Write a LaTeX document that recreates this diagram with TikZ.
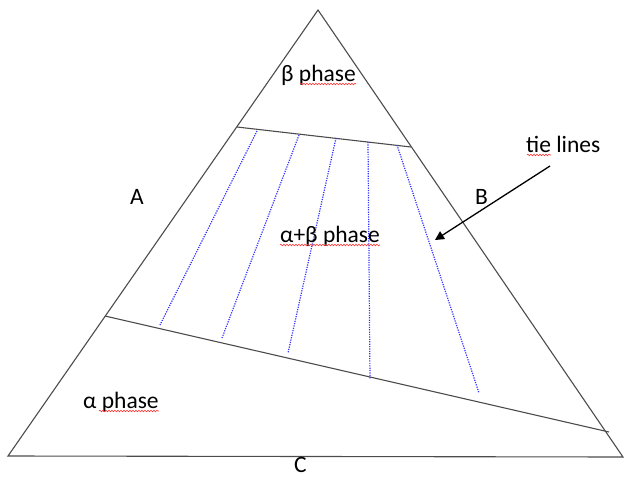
\documentclass[tikz,border=0pt]{standalone}
\usepackage{fontspec}
\setmainfont{Carlito}
\usetikzlibrary{arrows.meta,calc,decorations.pathmorphing}

\tikzset{
  edge/.style={draw=black!70, line width=1.1pt},
  tie/.style={draw=blue!80, line width=1.2pt, dash pattern=on 1.2pt off 1.2pt},
  lbl/.style={font=\fontsize{23.5}{26}\selectfont, inner sep=0pt, anchor=base west},
  squiggle/.style={draw=red!80, line width=0.6pt, decorate,
    decoration={snake, amplitude=0.8pt, segment length=3pt}}
}

\begin{document}
\begin{tikzpicture}[x=1pt,y=-1pt]
\useasboundingbox (0,0) rectangle (624,477);

% corners of the triangle
\coordinate (top) at (318,10);
\coordinate (left) at (8,456);
\coordinate (right) at (623,457);

% phase boundaries
\coordinate (up1) at (237,127);   % beta boundary, left end
\coordinate (up2) at (411,147);   % beta boundary, right end
\coordinate (lo1) at (105,316);   % alpha boundary, left end
\coordinate (lo2) at (609,432);   % alpha boundary, right end

% triangle
\draw[edge] (left) -- (top) -- (right) -- cycle;
\draw[edge] (up1) -- (up2);
\draw[edge] (lo1) -- (lo2);

% tie lines
\coordinate (t1a) at (257,131); \coordinate (t1b) at (160,325);
\coordinate (t2a) at (299,135); \coordinate (t2b) at (222,338);
\coordinate (t3a) at (336,138); \coordinate (t3b) at (288,353);
\coordinate (t4a) at (368,142); \coordinate (t4b) at (370,379);
\coordinate (t5a) at (397,145); \coordinate (t5b) at (479,393);
\foreach \i in {1,...,5}
  \draw[tie] (t\i a) -- (t\i b);

% labels
\node[lbl] (bphase) at (281,81) {β phase};
\node[lbl] (abphase) at (280,242) {α+β phase};
\node[lbl] (aphase) at (83,408) {α phase};
\node[lbl] (tie) at (526,152) {tie lines};
\node[lbl] (labA) at (130,204) {A};
\node[lbl] (labB) at (475,204) {B};
\node[lbl] (labC) at (294,472) {C};

% spell-check marks
\draw[squiggle] ($(bphase.base west)+(19,3)$) -- ($(bphase.base east)+(0,3)$);
\draw[squiggle] ($(abphase.base west)+(0,3)$) -- ($(abphase.base east)+(0,3)$);
\draw[squiggle] ($(aphase.base west)+(16,3)$) -- ($(aphase.base east)+(0,3)$);
\draw[squiggle] ($(tie.base west)+(1,3)$) -- ($(tie.base west)+(25,3)$);

% arrow
\coordinate (arrtail) at (550,166);
\coordinate (arrtip) at (435,240);
\draw[line width=1.3pt, -{Triangle[length=9pt,width=9pt]}] (arrtail) -- (arrtip);

\end{tikzpicture}
\end{document}
